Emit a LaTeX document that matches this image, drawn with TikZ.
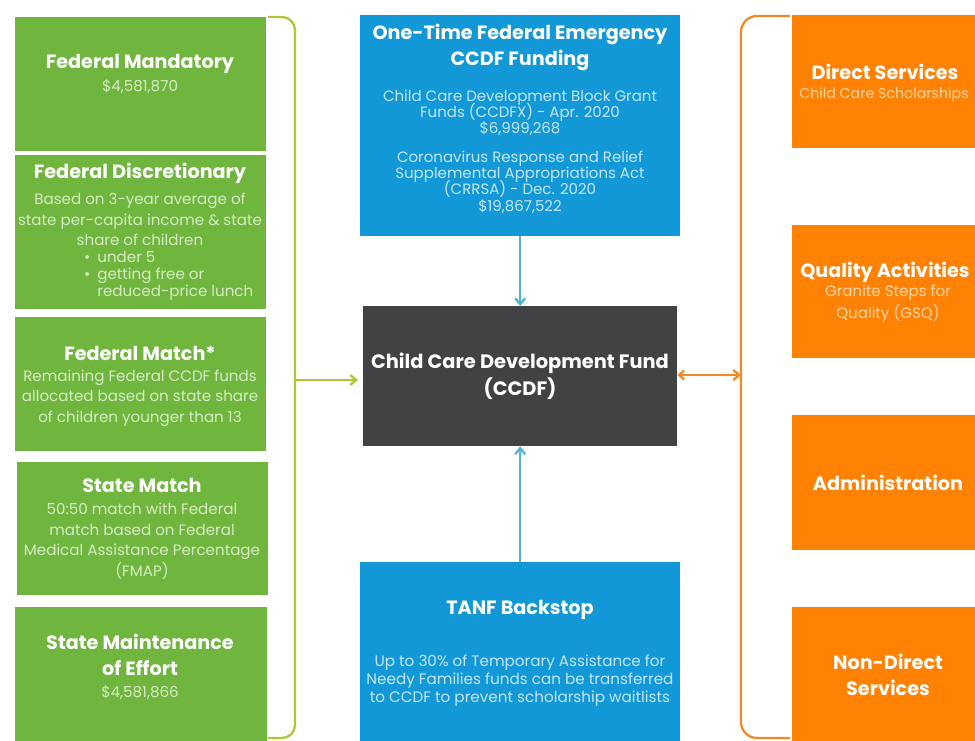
\documentclass[tikz,border=0pt]{standalone}
\usepackage{fontspec}
\setmainfont{Poppins}
\usetikzlibrary{arrows.meta}
\newcommand\mytightls{\lineskiplimit=-30pt\relax\lineskip=0pt\relax}
\definecolor{gboxc}{RGB}{112,182,62}
\definecolor{gtxt}{RGB}{214,236,196}
\definecolor{gline}{RGB}{172,200,52}
\definecolor{bboxc}{RGB}{18,152,214}
\definecolor{btxt}{RGB}{196,230,246}
\definecolor{bline}{RGB}{80,182,208}
\definecolor{dboxc}{RGB}{66,66,68}
\definecolor{oboxc}{RGB}{255,130,4}
\definecolor{otxt}{RGB}{255,214,168}
\definecolor{oline}{RGB}{238,138,40}
\tikzset{
  box/.style={draw=none, inner sep=0pt, anchor=north west},
  gbox/.style={box, fill=gboxc},
  bbox/.style={box, fill=bboxc},
  dbox/.style={box, fill=dboxc},
  obox/.style={box, fill=oboxc},
  ttl/.style={inner sep=0pt, align=center, text=white, font=\bfseries\fontsize{19.2}{26}\selectfont},
  body/.style={inner sep=0pt, align=center, font=\fontsize{15.1}{20.5}\selectfont},
  bbody/.style={inner sep=0pt, align=center, text=btxt, font={\fontsize{15}{16.3}\selectfont\mytightls}},
  garrow/.style={draw=gline, line width=2.3pt, -{Straight Barb[length=6pt,width=10pt]}},
  barrow/.style={draw=bline, line width=2.3pt, -{Straight Barb[length=6pt,width=10pt]}},
  oarrow/.style={draw=oline, line width=2.3pt, {Straight Barb[length=5pt,width=9pt]}-{Straight Barb[length=6pt,width=10pt]}},
  brk/.style={line width=2.3pt, rounded corners=13pt},
}
\begin{document}
\begin{tikzpicture}[x=1pt,y=-1pt]
\useasboundingbox (0,0) rectangle (975,741);
\fill[white] (0,0) rectangle (975,741);
\begin{scope}
\clip (0,0) rectangle (975,741);
% green boxes
\node[gbox, minimum width=251pt, minimum height=134pt] (fm) at (15,17) {};
\node[gbox, minimum width=251pt, minimum height=154pt] (fd) at (15,155) {};
\node[gbox, minimum width=251pt, minimum height=134pt] (fmt) at (15,317) {};
\node[gbox, minimum width=251pt, minimum height=133pt] (sm) at (17,462) {};
\node[gbox, minimum width=252pt, minimum height=140pt] (moe) at (15,607) {};
% blue / dark boxes
\node[bbox, minimum width=320pt, minimum height=221pt] (top) at (360,15) {};
\node[dbox, minimum width=314pt, minimum height=140pt] (ccdf) at (363,306) {};
\node[bbox, minimum width=320pt, minimum height=185pt] (tanf) at (360,562) {};
% orange boxes
\node[obox, minimum width=200pt, minimum height=133pt] (ds) at (792,15) {};
\node[obox, minimum width=200pt, minimum height=133pt] (qa) at (792,225) {};
\node[obox, minimum width=200pt, minimum height=135pt] (adm) at (792,415) {};
\node[obox, minimum width=200pt, minimum height=140pt] (nd) at (792,607) {};

% green texts
\node[ttl] (t1) at (140,64) {Federal Mandatory};
\node[body, text=gtxt] (b1) at (140,87) {\$4,581,870};
\node[ttl] (t2) at (140,173) {Federal Discretionary};
\node[body, text=gtxt] (b2) at (140,219.5) {Based on 3-year average of\\state per-capita income \& state\\share of children};
\node[body, text=gtxt, align=left, anchor=west, font=\fontsize{15.1}{17}\selectfont] (b2l) at (84,276) {\textbullet\hspace{7pt}under 5\\\textbullet\hspace{7pt}getting free or\\\phantom{\textbullet}\hspace{7pt}reduced-price lunch};
\node[ttl] (t3) at (140,353) {Federal Match*};
\node[body, text=gtxt] (b3) at (140,398) {Remaining Federal CCDF funds\\allocated based on state share\\of children younger than 13};
\node[ttl] (t4) at (142,485) {State Match};
\node[body, text=gtxt] (b4) at (142,541) {50:50 match with Federal\\match based on Federal\\Medical Assistance Percentage\\(FMAP)};
\node[ttl] (t5) at (140,655) {State Maintenance\\of Effort};
\node[body, text=gtxt] (b5) at (140,693) {\$4,581,866};

% blue top texts
\node[ttl] (t6) at (520,47.5) {One-Time Federal Emergency\\CCDF Funding};
\node[bbody] (b6a) at (520,113) {Child Care Development Block Grant\\Funds (CCDFX) - Apr. 2020\\\$6,999,268};
\node[bbody] (b6b) at (520,182) {Coronavirus Response and Relief\\Supplemental Appropriations Act\\(CRRSA) - Dec. 2020\\\$19,867,522};
% ccdf
\node[ttl, font=\bfseries\fontsize{19.4}{27}\selectfont] (t7) at (520,376.5) {Child Care Development Fund\\(CCDF)};
% tanf
\node[ttl] (t8) at (520,610) {TANF Backstop};
\node[body, text=btxt, font=\fontsize{15.2}{18}\selectfont] (b8) at (520,681) {Up to 30\% of Temporary Assistance for\\Needy Families funds can be transferred\\to CCDF to prevent scholarship waitlists};

% orange texts
\node[ttl] (t9) at (885,72) {Direct Services};
\node[body, text=otxt, font=\fontsize{14.2}{20}\selectfont] (b9) at (884,95) {Child Care Scholarships};
\node[ttl] (t10) at (885,272) {Quality Activities};
\node[body, text=otxt, font=\fontsize{15.1}{22}\selectfont] (b10) at (888,304) {Granite Steps for\\Quality (GSQ)};
\node[ttl] (t11) at (888,483) {Administration};
\node[ttl] (t12) at (888,675) {Non-Direct\\Services};

% brackets
\coordinate (g1) at (268,17);
\coordinate (g2) at (268,738);
\draw[brk, gline] (g1) -- (295,17) -- (295,738) -- (g2);
\coordinate (gm) at (295,380);
\draw[garrow, shorten >=5pt] (gm) -- (ccdf.west |- gm);

\coordinate (o1) at (790,16);
\coordinate (o2) at (790,738);
\draw[brk, oline, rounded corners=16pt] (o1) -- (741,16) -- (741,738) -- (o2);
\coordinate (om) at (741,375);
\draw[oarrow] (ccdf.east |- om) -- (om);

% blue arrows
\draw[barrow] (top.south) -- (ccdf.north);
\draw[barrow] (tanf.north) -- (ccdf.south);
\end{scope}
\end{tikzpicture}
\end{document}
